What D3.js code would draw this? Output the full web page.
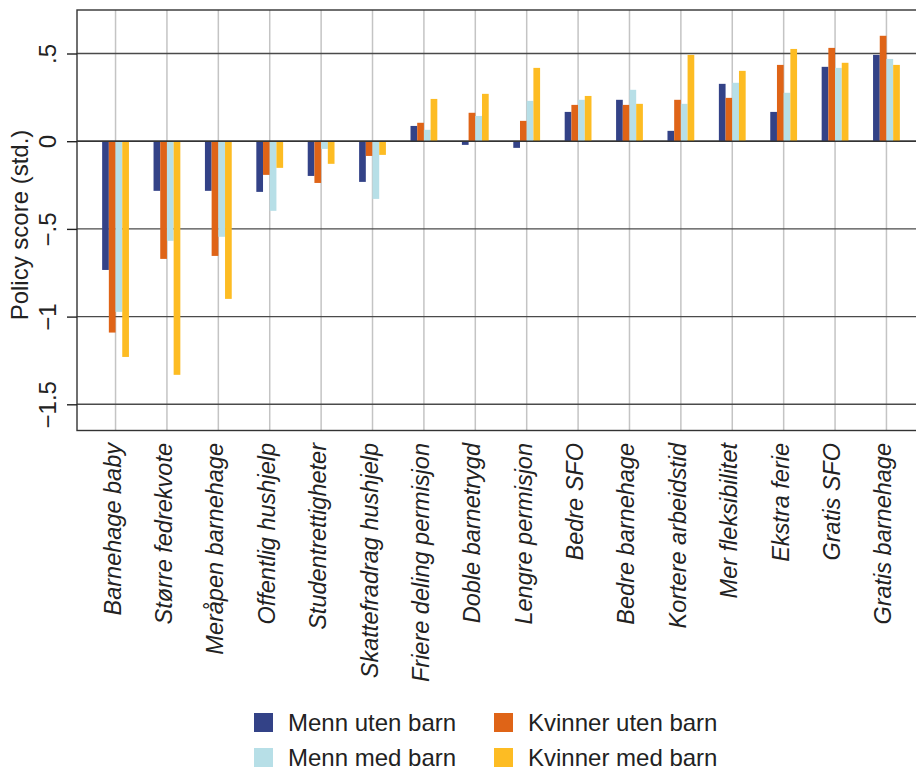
<!DOCTYPE html>
<html>
<head>
<meta charset="utf-8">
<script src="https://cdn.jsdelivr.net/npm/d3@7"></script>
<style>
  html, body { margin: 0; padding: 0; background: #fff; }
  svg { display: block; font-family: "Liberation Sans", Arial, sans-serif; }
</style>
</head>
<body>
<svg id="chart" width="916" height="771"></svg>
<script>
const categories = [
  "Barnehage baby", "Større fedrekvote", "Meråpen barnehage", "Offentlig hushjelp",
  "Studentrettigheter", "Skattefradrag hushjelp", "Friere deling permisjon", "Doble barnetrygd",
  "Lengre permisjon", "Bedre SFO", "Bedre barnehage", "Kortere arbeidstid",
  "Mer fleksibilitet", "Ekstra ferie", "Gratis SFO", "Gratis barnehage"
];
const seriesNames = ["Menn uten barn", "Kvinner uten barn", "Menn med barn", "Kvinner med barn"];
const seriesColors = ["#334287", "#df6417", "#b7dfe7", "#fdbc23"];

const mennUtenBarn    = [-0.734, -0.283, -0.283, -0.289, -0.198, -0.232, 0.087, -0.021, -0.038, 0.167, 0.236, 0.059, 0.327, 0.167, 0.424, 0.492];
const kvinnerUtenBarn = [-1.091, -0.671, -0.654, -0.192, -0.238, -0.084, 0.105, 0.162, 0.116, 0.207, 0.207, 0.236, 0.247, 0.435, 0.532, 0.601];
const mennMedBarn     = [-0.973, -0.568, -0.545, -0.397, -0.044, -0.329, 0.065, 0.144, 0.230, 0.236, 0.293, 0.213, 0.333, 0.276, 0.418, 0.469];
const kvinnerMedBarn  = [-1.230, -1.332, -0.899, -0.152, -0.129, -0.078, 0.241, 0.270, 0.418, 0.258, 0.213, 0.492, 0.401, 0.526, 0.447, 0.435];

const yTicks = [0.5, 0, -0.5, -1, -1.5];
const yTickLabels = [".5", "0", "\u2212.5", "\u22121", "\u22121.5"];

const seriesValues = [mennUtenBarn, kvinnerUtenBarn, mennMedBarn, kvinnerMedBarn];

const svg = d3.select("#chart");
const plot = { left: 77, right: 925, top: 10, bottom: 430.5 };

const x = d3.scalePoint().domain(categories).range([plot.left, plot.right]).padding(0.75);
const xs = d3.scaleBand().domain(seriesNames).range([-13.4, 13.4]).padding(0);
const y = d3.scaleLinear().domain([-1.5, 0.5]).range([404.3, 53.5]);

// vertical gridlines
svg.append("g").selectAll("line").data(categories).join("line")
  .attr("x1", d => x(d)).attr("x2", d => x(d))
  .attr("y1", plot.top).attr("y2", plot.bottom)
  .attr("stroke", "#c4c4c4").attr("stroke-width", 1.5);

// horizontal gridlines
svg.append("g").selectAll("line").data(yTicks).join("line")
  .attr("x1", plot.left).attr("x2", plot.right)
  .attr("y1", d => y(d)).attr("y2", d => y(d))
  .attr("stroke", "#4a4a4a").attr("stroke-width", 1.4);

// bars
const data = [];
categories.forEach((c, i) => {
  seriesNames.forEach((s, j) => {
    data.push({ cat: c, series: s, value: seriesValues[j][i], color: seriesColors[j] });
  });
});
svg.append("g").selectAll("rect").data(data).join("rect")
  .attr("x", d => x(d.cat) + xs(d.series))
  .attr("width", xs.bandwidth())
  .attr("y", d => Math.min(y(d.value), y(0)))
  .attr("height", d => Math.abs(y(d.value) - y(0)))
  .attr("fill", d => d.color);

// zero line on top
svg.append("line")
  .attr("x1", plot.left).attr("x2", plot.right)
  .attr("y1", y(0)).attr("y2", y(0))
  .attr("stroke", "#333").attr("stroke-width", 1.4);

// frame
svg.append("rect")
  .attr("x", plot.left).attr("y", plot.top)
  .attr("width", plot.right - plot.left).attr("height", plot.bottom - plot.top)
  .attr("fill", "none").attr("stroke", "#333").attr("stroke-width", 1.4);

// y axis
const yAxis = d3.axisLeft(y).tickValues(yTicks).tickSize(10)
  .tickFormat((d, i) => yTickLabels[i]);
const gy = svg.append("g").attr("transform", `translate(${plot.left},0)`).call(yAxis);
gy.select(".domain").remove();
gy.selectAll(".tick line").attr("stroke", "#222").attr("stroke-width", 1.4);
gy.selectAll(".tick text")
  .attr("transform", "rotate(-90)")
  .attr("dy", null)
  .attr("text-anchor", "middle")
  .attr("font-size", 24)
  .attr("fill", "#222")
  .attr("x", 0).attr("y", -21);

// y label
svg.append("text")
  .attr("transform", "translate(28,225) rotate(-90)")
  .attr("text-anchor", "middle")
  .attr("font-size", 24)
  .attr("fill", "#222")
  .text("Policy score (std.)");

// x axis labels
const xAxis = d3.axisBottom(x).tickSize(0);
const gx = svg.append("g").attr("transform", `translate(0,${plot.bottom})`).call(xAxis);
gx.select(".domain").remove();
gx.selectAll(".tick text")
  .attr("transform", "rotate(-90)")
  .attr("x", -12.5).attr("y", 0).attr("dy", 4.5)
  .attr("text-anchor", "end")
  .attr("font-size", 23.5)
  .attr("font-style", "italic")
  .attr("fill", "#222");

// legend
const legendPos = [
  { sx: 254, sy: 713 }, { sx: 494, sy: 713 },
  { sx: 254, sy: 748 }, { sx: 494, sy: 748 }
];
const lg = svg.append("g");
seriesNames.forEach((s, i) => {
  const p = legendPos[i];
  lg.append("rect").attr("x", p.sx).attr("y", p.sy).attr("width", 19).attr("height", 19)
    .attr("fill", seriesColors[i]);
  lg.append("text").attr("x", p.sx + 34).attr("y", p.sy + 17.5)
    .attr("font-size", 24).attr("fill", "#222").text(s);
});
</script>
</body>
</html>
